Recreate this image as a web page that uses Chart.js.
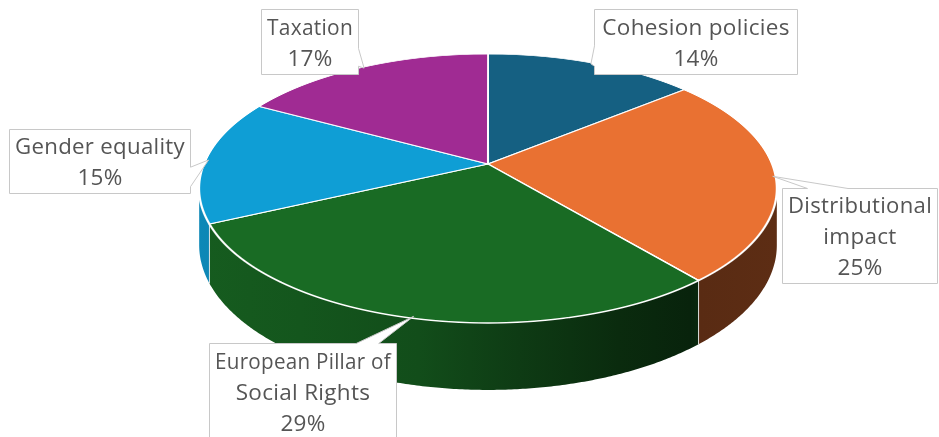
<!DOCTYPE html>
<html>
<head>
<meta charset="utf-8">
<script src="https://cdn.jsdelivr.net/npm/chart.js@4.4.1/dist/chart.umd.min.js"></script>
<style>
  html, body { margin: 0; padding: 0; background: #ffffff; overflow: hidden; }
  #wrap { width: 939px; height: 437px; }
</style>
</head>
<body>
<div id="wrap"><canvas id="pie" width="939" height="437"></canvas></div>
<script>
// ---- data ----
const categories = ['Cohesion policies', 'Distributional impact', 'European Pillar of Social Rights', 'Gender equality', 'Taxation'];
const shares = [14, 25, 29, 15, 17];
// how each category name is broken across lines inside its callout
const labelLines = [['Cohesion policies'], ['Distributional', 'impact'], ['European Pillar of', 'Social Rights'], ['Gender equality'], ['Taxation']];

// ---- styles ----
const sliceColors = ['#156082', '#E97132', '#196B24', '#0F9ED5', '#A02B93'];
const textColor = '#555555';
const fontSpec = '22.5px "Open Sans", "Noto Sans", sans-serif';

// tilted disc seen in perspective: centre, half-axes, perspective strength, wall height
const view = { cx: 488, cy: 164, rx: 284, ry: 130, persp: 0.182, depth: 54.8 };

// callout boxes and where their pointer leaves the box edge (fractions of that edge)
const callouts = [
  { x: 594, y: 9,   w: 204, h: 66, base: [0.55, 0.86] },
  { x: 782, y: 188, w: 156, h: 96, base: [0.16, 0.42] },
  { x: 209, y: 343, w: 188, h: 97, base: [0.78, 0.90] },
  { x: 9,   y: 129, w: 182, h: 65, base: [0.58, 0.88] },
  { x: 261, y: 9,   w: 98,  h: 66, base: [0.59, 0.86] }
];

// darkening of the outer wall across the width (light from the left)
const wallShade = [[0, 0.86], [0.175, 0.8], [0.38, 0.72], [0.555, 0.55], [0.727, 0.4], [0.85, 0.33], [0.867, 0.38], [1, 0.4]];

function project(a, b) {
  const s = 1 / (1 - view.persp * b);
  return { x: view.cx + view.rx * a * s, y: view.cy + view.ry * b * s, s };
}

function shade(hex, f) {
  const n = parseInt(hex.slice(1), 16);
  const r = Math.round(((n >> 16) & 255) * f);
  const g = Math.round(((n >> 8) & 255) * f);
  const b = Math.round((n & 255) * f);
  return `rgb(${r},${g},${b})`;
}

function drawWalls(ctx, arcs) {
  const k = view.persp;
  const lo = Math.asin(k), hi = Math.PI - Math.asin(k);
  const halfW = view.rx * Math.sqrt(1 - k * k) / (1 - k * k);
  const x0 = view.cx - halfW, x1 = view.cx + halfW;
  arcs.forEach((arc) => {
    const t1 = Math.max(arc.startAngle, lo), t2 = Math.min(arc.endAngle, hi);
    if (t1 >= t2) return;
    const steps = Math.max(8, Math.ceil((t2 - t1) * 120));
    const top = [], bottom = [];
    for (let j = 0; j <= steps; j++) {
      const t = t1 + (t2 - t1) * j / steps;
      const p = project(Math.cos(t), Math.sin(t));
      top.push(p);
      bottom.push({ x: p.x, y: p.y + view.depth * p.s });
    }
    const grad = ctx.createLinearGradient(x0, 0, x1, 0);
    wallShade.forEach(([u, f]) => grad.addColorStop(u, shade(arc.options.backgroundColor, f)));
    ctx.beginPath();
    top.forEach((p, j) => j ? ctx.lineTo(p.x, p.y) : ctx.moveTo(p.x, p.y));
    for (let j = bottom.length - 1; j >= 0; j--) ctx.lineTo(bottom[j].x, bottom[j].y);
    ctx.closePath();
    ctx.fillStyle = grad;
    ctx.fill();
  });
  // seams between neighbouring slices on the wall
  ctx.strokeStyle = 'rgba(235,235,235,0.9)';
  ctx.lineWidth = 1;
  arcs.forEach(arc => {
    const t = arc.startAngle;
    if (t > lo && t < hi) {
      const p = project(Math.cos(t), Math.sin(t));
      ctx.beginPath();
      ctx.moveTo(p.x, p.y);
      ctx.lineTo(p.x, p.y + view.depth * p.s);
      ctx.stroke();
    }
  });
}

// the flat pie laid out by Chart.js is redrawn row by row onto the tilted disc
function drawTop(ctx, arcs, width) {
  const { x: ox, y: oy, outerRadius: r0 } = arcs[0];
  const k = view.persp;
  const yTop = Math.floor(view.cy - view.ry / (1 + k)) - 2;
  const yBot = Math.ceil(view.cy + view.ry / (1 - k)) + 2;
  for (let yr = yTop; yr <= yBot; yr++) {
    const ym = yr + 0.5;
    const t = ym - view.cy;
    const b = t / (view.ry + k * t);
    if (Math.abs(b) > 1.06) continue;
    const s = 1 / (1 - k * b);
    const sx = view.rx * s / r0;
    const sy = view.ry * s * s / r0;
    ctx.save();
    ctx.beginPath();
    ctx.rect(0, yr, width, 1);
    ctx.clip();
    ctx.transform(sx, 0, 0, sy, view.cx - sx * ox, ym - sy * (oy + b * r0));
    arcs.forEach(a => a.draw(ctx));
    ctx.restore();
  }
}

function drawCallouts(ctx, arcs) {
  ctx.font = fontSpec;
  if ('letterSpacing' in ctx) ctx.letterSpacing = '0.3px';
  arcs.forEach((arc, i) => {
    const box = callouts[i];
    const mid = (arc.startAngle + arc.endAngle) / 2;
    const tip = project(0.99 * Math.cos(mid), 0.99 * Math.sin(mid));
    const L = box.x + 0.5, T = box.y + 0.5, R = box.x + box.w - 0.5, B = box.y + box.h - 0.5;
    let side;
    if (tip.y < box.y) side = 'top';
    else if (tip.y > box.y + box.h) side = 'bottom';
    else if (tip.x < box.x) side = 'left';
    else side = 'right';
    const [f1, f2] = box.base;
    ctx.beginPath();
    ctx.moveTo(L, T);
    if (side === 'top') { ctx.lineTo(L + box.w * f1, T); ctx.lineTo(tip.x, tip.y); ctx.lineTo(L + box.w * f2, T); }
    ctx.lineTo(R, T);
    if (side === 'right') { ctx.lineTo(R, T + box.h * f1); ctx.lineTo(tip.x, tip.y); ctx.lineTo(R, T + box.h * f2); }
    ctx.lineTo(R, B);
    if (side === 'bottom') { ctx.lineTo(L + box.w * f2, B); ctx.lineTo(tip.x, tip.y); ctx.lineTo(L + box.w * f1, B); }
    ctx.lineTo(L, B);
    if (side === 'left') { ctx.lineTo(L, T + box.h * f2); ctx.lineTo(tip.x, tip.y); ctx.lineTo(L, T + box.h * f1); }
    ctx.closePath();
    ctx.fillStyle = '#ffffff';
    ctx.fill();
    ctx.strokeStyle = '#c8c8c8';
    ctx.lineWidth = 1;
    ctx.stroke();

    const lines = labelLines[i].concat([shares[i] + '%']);
    const pitch = 31, cap = 16;
    const cyBox = box.y + box.h / 2;
    ctx.fillStyle = textColor;
    ctx.textAlign = 'center';
    ctx.textBaseline = 'alphabetic';
    lines.forEach((ln, j) => {
      const y = cyBox + (j - (lines.length - 1) / 2) * pitch + cap / 2;
      ctx.fillText(ln, box.x + box.w / 2, y, box.w - 12);
    });
  });
}

const pie3d = {
  id: 'pie3d',
  beforeDatasetsDraw(chart) {
    const ctx = chart.ctx;
    const arcs = chart.getDatasetMeta(0).data;
    ctx.save();
    drawWalls(ctx, arcs);
    drawTop(ctx, arcs, chart.width);
    ctx.restore();
    return false;
  },
  afterDraw(chart) {
    const ctx = chart.ctx;
    ctx.save();
    drawCallouts(ctx, chart.getDatasetMeta(0).data);
    ctx.restore();
  }
};

new Chart(document.getElementById('pie'), {
  type: 'pie',
  data: {
    labels: categories,
    datasets: [{
      data: shares,
      backgroundColor: sliceColors,
      borderColor: '#ffffff',
      borderWidth: 1.6
    }]
  },
  options: {
    responsive: false,
    animation: false,
    events: [],
    layout: { padding: 0 },
    plugins: { legend: { display: false }, tooltip: { enabled: false }, title: { display: false } }
  },
  plugins: [pie3d]
});
</script>
</body>
</html>
